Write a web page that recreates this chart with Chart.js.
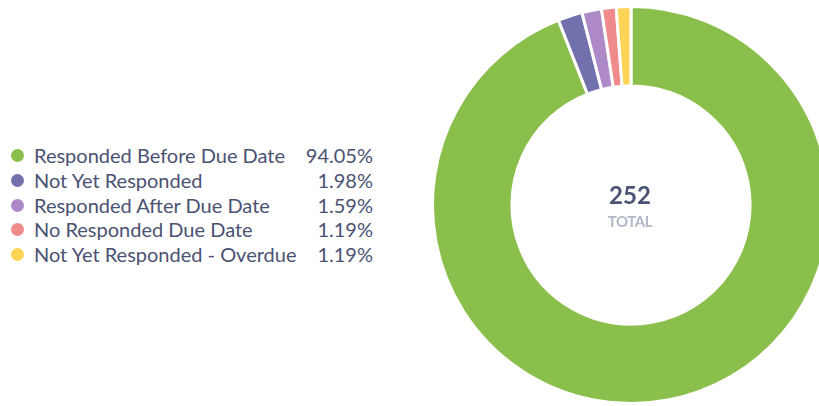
<!DOCTYPE html>
<html>
<head>
<meta charset="utf-8">
<script src="https://cdn.jsdelivr.net/npm/chart.js@4.4.0/dist/chart.umd.min.js"></script>
<style>
html,body{margin:0;padding:0;background:#fff;width:819px;height:406px;overflow:hidden;font-family:Lato,"Open Sans",sans-serif;}
#wrap{position:absolute;left:431px;top:5px;width:400px;height:400px;}
#legend{position:absolute;left:0;top:143px;width:380px;}
.row{position:relative;height:24.75px;line-height:24.75px;font-size:20px;color:#4b5272;}
.dot{position:absolute;left:10.5px;top:6px;width:13px;height:13px;border-radius:50%;}
.lbl{position:absolute;left:34px;top:0;white-space:nowrap;}
.pct{position:absolute;right:7px;top:0;white-space:nowrap;}
#center{position:absolute;left:530px;width:200px;text-align:center;top:180px;}
#num{font-size:24px;font-weight:700;color:#4b5475;line-height:30px;}
#tot{font-size:15px;font-weight:700;color:#b3b8c8;line-height:18px;letter-spacing:-0.4px;margin-top:2px;}
</style>
</head>
<body>
<div id="legend"></div>
<div id="wrap"><canvas id="c" width="400" height="400"></canvas></div>
<div id="center"><div id="num"></div><div id="tot">TOTAL</div></div>
<script>
const categories = ["Responded Before Due Date","Not Yet Responded","Responded After Due Date","No Responded Due Date","Not Yet Responded - Overdue"];
const counts = [237, 5, 4, 3, 3];
const percentLabels = ["94.05%","1.98%","1.59%","1.19%","1.19%"];
const colors = ["#8bbf4c","#7371ad","#ae89c8","#ef8b8c","#fdd457"];
const total = counts.reduce((a,b)=>a+b,0);

document.getElementById('num').textContent = total;
const lg = document.getElementById('legend');
categories.forEach((c,i)=>{
  const r = document.createElement('div'); r.className='row';
  r.innerHTML = '<span class="dot" style="background:'+colors[i]+'"></span><span class="lbl">'+c+'</span><span class="pct">'+percentLabels[i]+'</span>';
  lg.appendChild(r);
});

new Chart(document.getElementById('c'), {
  type:'doughnut',
  data:{labels:categories,datasets:[{data:counts,backgroundColor:colors,borderColor:'#ffffff',borderWidth:3,hoverOffset:0}]},
  options:{
    responsive:false,animation:false,cutout:'60%',
    layout:{padding:0},
    plugins:{legend:{display:false},tooltip:{enabled:false}}
  }
});
</script>
</body>
</html>
